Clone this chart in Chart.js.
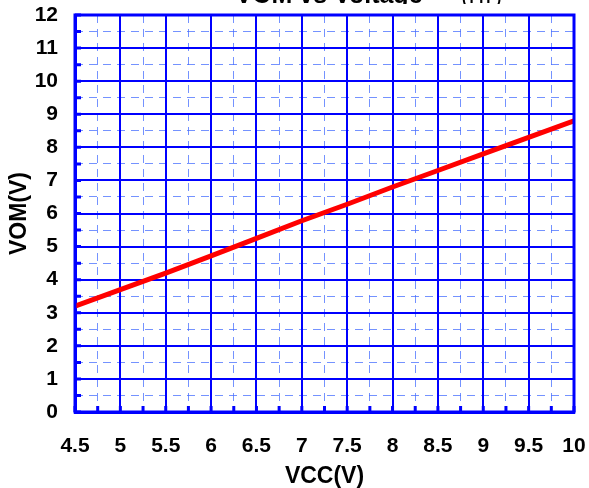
<!DOCTYPE html>
<html>
<head>
<meta charset="utf-8">
<script src="https://cdn.jsdelivr.net/npm/chart.js@4.4.1/dist/chart.umd.min.js"></script>
<style>
  html, body { margin: 0; padding: 0; background: #fff; }
  #wrap { width: 589px; height: 488px; }
</style>
</head>
<body>
<div id="wrap"><canvas id="vomChart" width="589" height="488"></canvas></div>
<script>
// VCC (V) vs VOM (V), typical
const vcc = [4.5, 5, 5.5, 6, 6.5, 7, 7.5, 8, 8.5, 9, 9.5, 10];
const vom = [3.2, 3.7, 4.2, 4.72, 5.25, 5.78, 6.28, 6.8, 7.3, 7.8, 8.3, 8.8];
const xTicks = { min: 4.5, max: 10, step: 0.5 };
const yTicks = { min: 0, max: 12, step: 1 };

const BLUE = '#0000ff';
const MINOR = 'rgba(70,110,255,0.75)';
const FONT = "'Liberation Sans', Arial, sans-serif";

// frame, inward tick marks and the clipped title
const framePlugin = {
  id: 'frame',
  afterDraw: (chart) => {
    const { ctx, chartArea: { left, right, top, bottom } } = chart;
    const xs = chart.scales.x, ys = chart.scales.y;
    ctx.save();
    ctx.strokeStyle = BLUE;
    ctx.lineWidth = 3;
    ctx.strokeRect(left, top, right - left, bottom - top);
    ctx.beginPath();
    for (let v = xTicks.min; v <= xTicks.max + 1e-9; v += xTicks.step / 2) {
      const px = xs.getPixelForValue(v);
      ctx.moveTo(px, bottom);
      ctx.lineTo(px, bottom - 6);
    }
    for (let v = yTicks.min; v <= yTicks.max + 1e-9; v += yTicks.step / 2) {
      const py = ys.getPixelForValue(v);
      ctx.moveTo(left, py);
      ctx.lineTo(left + 6, py);
    }
    ctx.stroke();
    ctx.restore();

    ctx.save();
    ctx.beginPath();
    ctx.rect(0, 0, chart.width, 4);
    ctx.clip();
    ctx.fillStyle = '#000';
    ctx.textBaseline = 'alphabetic';
    ctx.textAlign = 'center';
    ctx.font = `bold 25px ${FONT}`;
    ctx.fillText('VOM vs Voltage', 329, 3);
    ctx.textAlign = 'left';
    ctx.font = `bold 15px ${FONT}`;
    ctx.fillText('(TYP)', 462, 3);
    ctx.restore();
  }
};

const tickFont = { family: FONT, size: 21, weight: 'bold' };
const titleFont = { family: FONT, size: 23, weight: 'bold', lineHeight: 1 };

const fitX = (s) => { s.height = 76; s.paddingLeft = 0; s.paddingRight = 0; };
const fitY = (w) => (s) => { s.width = w; s.paddingTop = 0; s.paddingBottom = 0; };

new Chart(document.getElementById('vomChart').getContext('2d'), {
  type: 'line',
  data: {
    datasets: [{
      data: vcc.map((x, i) => ({ x, y: vom[i] })),
      borderColor: '#ff0000',
      borderWidth: 5,
      pointRadius: 0,
      tension: 0,
      fill: false
    }]
  },
  options: {
    responsive: false,
    animation: false,
    layout: { padding: { top: 15, right: 15, left: 0, bottom: 0 } },
    plugins: { legend: { display: false }, tooltip: { enabled: false }, title: { display: false } },
    scales: {
      xMinor: {
        type: 'linear', position: 'bottom',
        min: xTicks.min, max: xTicks.max,
        ticks: { display: false, stepSize: xTicks.step / 2 },
        grid: { color: MINOR, lineWidth: 1, drawTicks: false },
        border: { display: false, dash: [8, 6] },
        afterFit: (s) => { s.height = 0; s.paddingLeft = 0; s.paddingRight = 0; }
      },
      yMinor: {
        type: 'linear', position: 'left',
        min: yTicks.min, max: yTicks.max,
        ticks: { display: false, stepSize: yTicks.step / 2 },
        grid: { color: MINOR, lineWidth: 1, drawTicks: false },
        border: { display: false, dash: [8, 6] },
        afterFit: fitY(0)
      },
      x: {
        type: 'linear', position: 'bottom',
        min: xTicks.min, max: xTicks.max,
        ticks: { stepSize: xTicks.step, color: '#000', font: tickFont, padding: 22, maxRotation: 0, autoSkip: false,
                 callback: (v) => String(v) },
        grid: { color: BLUE, lineWidth: 2, drawTicks: false },
        border: { color: BLUE, width: 3 },
        title: { display: true, text: 'VCC(V)', color: '#000', font: titleFont, padding: { top: 0, bottom: 0 } },
        afterFit: fitX
      },
      y: {
        type: 'linear', position: 'left',
        min: yTicks.min, max: yTicks.max,
        ticks: { stepSize: yTicks.step, color: '#000', font: tickFont, padding: 17, callback: (v) => String(v) },
        grid: { color: BLUE, lineWidth: 2, drawTicks: false },
        border: { color: BLUE, width: 3 },
        title: { display: true, text: 'VOM(V)', color: '#000', font: titleFont, padding: { top: 8, bottom: 0 } },
        afterFit: fitY(75)
      }
    }
  },
  plugins: [framePlugin]
});
</script>
</body>
</html>
